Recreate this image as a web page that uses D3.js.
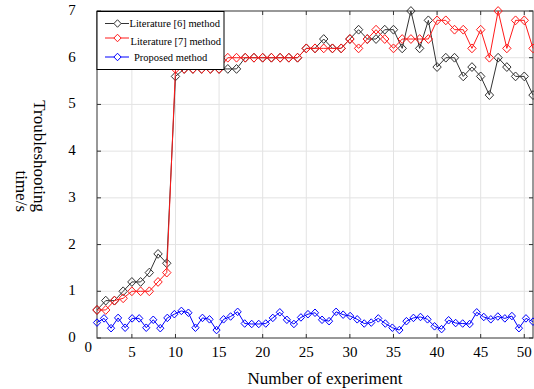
<!DOCTYPE html>
<html><head><meta charset="utf-8">
<script src="https://cdn.jsdelivr.net/npm/d3@7"></script>
<style>body{margin:0;background:#fff}svg{display:block}text{font-family:"Liberation Serif","Times New Roman",serif;fill:#000}</style>
</head><body><svg id="c" width="534" height="389"></svg>
<script>
const experiments = d3.range(1, 52);
const lit6 = [0.6,0.8,0.8,1.0,1.2,1.2,1.4,1.8,1.6,5.6,
  5.76,5.76,5.76,5.76,5.76,5.76,5.76,6.0,6.0,6.0,
  6.0,6.0,6.0,6.0,6.2,6.2,6.4,6.2,6.2,6.4,
  6.6,6.4,6.4,6.6,6.6,6.2,7.0,6.2,6.8,5.8,
  6.0,6.0,5.6,5.8,5.6,5.2,6.0,5.8,5.6,5.6,5.2];
const lit7 = [0.6,0.6,0.8,0.85,1.0,1.0,1.0,1.2,1.4,5.76,
  5.76,5.76,5.76,5.76,5.76,6.0,6.0,6.0,6.0,6.0,
  6.0,6.0,6.0,6.0,6.2,6.2,6.2,6.2,6.2,6.4,
  6.2,6.4,6.6,6.4,6.2,6.4,6.4,6.4,6.4,6.8,
  6.8,6.6,6.6,6.2,6.6,6.0,7.0,6.2,6.8,6.8,6.2];
const proposed = [0.33,0.42,0.21,0.43,0.22,0.42,0.42,0.22,0.39,0.21,
  0.43,0.51,0.58,0.54,0.22,0.43,0.40,0.17,0.40,0.46,
  0.56,0.31,0.30,0.30,0.31,0.43,0.55,0.39,0.30,0.44,
  0.51,0.54,0.39,0.36,0.56,0.50,0.47,0.40,0.31,0.33,
  0.42,0.31,0.22,0.17,0.36,0.43,0.45,0.40,0.25,0.19,
  0.38,0.32,0.31,0.30,0.55,0.45,0.40,0.46,0.42,0.47,
  0.21,0.42,0.35];
const xTicks = [0,5,10,15,20,25,30,35,40,45,50];
const yTicks = [0,1,2,3,4,5,6,7];
const seriesNames = ["Literature [6] method","Literature [7] method","Proposed method"];
const seriesColors = ["#333333","#ff1a1a","#0000ff"];

const svg = d3.select("#c");
const x = d3.scaleLinear().domain([1,51]).range([97,533]);
const y = d3.scaleLinear().domain([0,7]).range([338,11]);
const xi = d3.scaleLinear().domain([0, proposed.length-1]).range([1,51]);

// grid
const g = svg.append("g");
g.selectAll(".gx").data(xTicks.filter(t=>t>1)).enter().append("line")
  .attr("x1",d=>x(d)).attr("x2",d=>x(d)).attr("y1",y(0)).attr("y2",y(7))
  .attr("stroke","#e3e3e3").attr("stroke-width",1);
g.selectAll(".gy").data(yTicks.filter(t=>t>0&&t<7)).enter().append("line")
  .attr("y1",d=>y(d)).attr("y2",d=>y(d)).attr("x1",x(1)).attr("x2",x(51))
  .attr("stroke","#e3e3e3").attr("stroke-width",1);

// box
svg.append("rect").attr("x",x(1)).attr("y",y(7)).attr("width",x(51)-x(1)).attr("height",y(0)-y(7))
  .attr("fill","none").attr("stroke","#333").attr("stroke-width",1);
// inward ticks
const tl = 4;
xTicks.filter(t=>t>1).forEach(t=>{
  svg.append("line").attr("x1",x(t)).attr("x2",x(t)).attr("y1",y(0)).attr("y2",y(0)-tl).attr("stroke","#333");
  svg.append("line").attr("x1",x(t)).attr("x2",x(t)).attr("y1",y(7)).attr("y2",y(7)+tl).attr("stroke","#333");
});
yTicks.forEach(t=>{
  svg.append("line").attr("y1",y(t)).attr("y2",y(t)).attr("x1",x(1)).attr("x2",x(1)+tl).attr("stroke","#333");
  svg.append("line").attr("y1",y(t)).attr("y2",y(t)).attr("x1",x(51)).attr("x2",x(51)-tl).attr("stroke","#333");
});
// tick labels
svg.selectAll(".xl").data(xTicks).enter().append("text")
  .attr("x",d=>x(d)).attr("y",d=>d===0?352:357).attr("text-anchor","middle")
  .attr("font-size",15).text(d=>d);
svg.selectAll(".yl").data(yTicks).enter().append("text")
  .attr("x",72).attr("y",d=>y(d)+4).attr("text-anchor","middle")
  .attr("font-size",15).text(d=>d);
// axis titles
svg.append("text").attr("x",325).attr("y",384).attr("text-anchor","middle").attr("font-size",17).text("Number of experiment");
svg.append("text").attr("transform","translate(34,212) rotate(90)").attr("text-anchor","end").attr("font-size",17).text("Troubleshooting");
svg.append("text").attr("transform","translate(16,212) rotate(90)").attr("text-anchor","end").attr("font-size",17).text("time/s");

const diamond = (cx,cy,r)=>`M${cx},${cy-r*1.05}L${cx+r},${cy}L${cx},${cy+r*1.05}L${cx-r},${cy}Z`;
function drawSeries(xs, vals, color, r){
  const line = d3.line().x((d,i)=>x(xs[i])).y(d=>y(d));
  svg.append("path").datum(vals).attr("d",line).attr("fill","none").attr("stroke",color).attr("stroke-width",1);
  svg.append("g").selectAll("path").data(vals).enter().append("path")
    .attr("d",(d,i)=>diamond(x(xs[i]),y(d),r)).attr("fill","none").attr("stroke",color).attr("stroke-width",1);
}
drawSeries(experiments, lit6, seriesColors[0], 4.2);
drawSeries(experiments, lit7, seriesColors[1], 4.2);
drawSeries(proposed.map((d,i)=>xi(i)), proposed, seriesColors[2], 3.6);

// legend
const lg = svg.append("g");
lg.append("rect").attr("x",97).attr("y",11.5).attr("width",127).attr("height",58)
  .attr("fill","#fff").attr("stroke","#000").attr("stroke-width",1);
const rowY = [23.5,38,57];
const textX = [129.5,130.5,134];
const textY = [27.3,44.5,60.8];
seriesNames.forEach((n,i)=>{
  lg.append("line").attr("x1",105).attr("x2",129).attr("y1",rowY[i]).attr("y2",rowY[i]).attr("stroke",seriesColors[i]).attr("stroke-width",1);
  lg.append("path").attr("d",diamond(117.5,rowY[i],3.6)).attr("fill","#fff").attr("stroke",seriesColors[i]);
  lg.append("text").attr("x",textX[i]).attr("y",textY[i]).attr("font-size",10.5).text(n);
});
</script></body></html>
